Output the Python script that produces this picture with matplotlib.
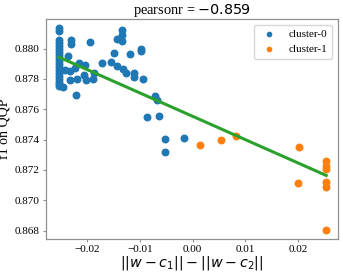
import numpy as np
import matplotlib
matplotlib.use("Agg")
import matplotlib.pyplot as plt

plt.rcParams['font.family'] = ['Liberation Serif', 'DejaVu Sans']
plt.rcParams['mathtext.fontset'] = 'dejavusans'

# cluster-0 points
c0_x = [-0.02533, -0.02525, -0.02530, -0.02528, -0.02532, -0.02526, -0.02530, -0.02527,
        -0.02531, -0.02529, -0.02533, -0.02527, -0.02530, -0.02528, -0.02532, -0.02526,
        -0.02530, -0.02528, -0.02531,
        -0.02445, -0.02408, -0.02350, -0.02318, -0.02312, -0.02299, -0.02305, -0.02217,
        -0.02204, -0.02179, -0.02152, -0.02051, -0.02040, -0.02013, -0.01937, -0.01886,
        -0.01873, -0.01709, -0.01550, -0.01480, -0.01429, -0.01429, -0.01341, -0.01333,
        -0.01328, -0.01314, -0.01265, -0.01175, -0.01112, -0.01112, -0.00985, -0.00985,
        -0.00933, -0.00718, -0.00680, -0.00870, -0.00636, -0.00514, -0.00160, -0.00528]
c0_y = [0.88134, 0.88116, 0.88060, 0.88040, 0.88020, 0.88000, 0.87980, 0.87960,
        0.87940, 0.87920, 0.87900, 0.87880, 0.87860, 0.87840, 0.87820, 0.87800,
        0.87780, 0.87765, 0.87755,
        0.87749, 0.87856, 0.87951, 0.87852, 0.87792, 0.88033, 0.88060, 0.87874,
        0.87693, 0.87802, 0.87907, 0.87823, 0.87890, 0.87790, 0.88044, 0.87802,
        0.87837, 0.87907, 0.87911, 0.87974, 0.87885, 0.88062, 0.88048, 0.88121,
        0.88088, 0.87863, 0.87837, 0.87967, 0.87837, 0.87815, 0.88000, 0.87984,
        0.87802, 0.87686, 0.87660, 0.87550, 0.87554, 0.87405, 0.87411, 0.87316]

# cluster-1 points
c1_x = [0.00139, 0.00533, 0.00830, 0.02020, 0.01992, 0.02526, 0.02526, 0.02526,
        0.02526, 0.02526, 0.02526]
c1_y = [0.87362, 0.87398, 0.87424, 0.87352, 0.87113, 0.87256, 0.87223, 0.87208,
        0.87124, 0.87091, 0.86805]

# regression line (slope, intercept) and its x extent
fit_slope = -0.1542
fit_intercept = 0.87554
fit_x = [-0.0253, 0.0253]

title_text = r'pearsonr = $-0.859$'
xlabel_text = r'$||w - c_1|| - ||w - c_2||$'
ylabel_text = 'f1 on QQP'
yticks = [0.868, 0.870, 0.872, 0.874, 0.876, 0.878, 0.880]
xticks = [-0.02, -0.01, 0.00, 0.01, 0.02]

fig = plt.figure(figsize=(3.43, 2.74), dpi=100)
ax = fig.add_axes([0.134, 0.1277, 0.851, 0.8023])

ax.scatter(c0_x, c0_y, s=22, color='#1f77b4', label='cluster-0', zorder=2)
ax.scatter(c1_x, c1_y, s=22, color='#ff7f0e', label='cluster-1', zorder=2)
fx = np.array(fit_x)
ax.plot(fx, fit_slope * fx + fit_intercept, color='#2ca02c', lw=2.2, zorder=3)

ax.set_xlim(-0.02775, 0.0275)
ax.set_ylim(0.86745, 0.88194)
ax.set_xticks(xticks)
ax.set_xticklabels([f'{t:.2f}'.replace('-', '\u2212') for t in xticks])
ax.set_yticks(yticks)
ax.set_yticklabels([f'{t:.3f}' for t in yticks])
ax.tick_params(labelsize=8, length=2.5, width=0.8, color='#909090', pad=2)
for sp in ax.spines.values():
    sp.set_color('#909090')
    sp.set_linewidth(0.9)

ax.set_title(title_text, fontsize=10.4, pad=3)
ax.set_xlabel(xlabel_text, fontsize=10.3, labelpad=0)
ax.set_ylabel(ylabel_text, fontsize=10, labelpad=2)
ax.legend(loc='upper right', fontsize=8, markerscale=0.65)

fig.savefig('out.png', dpi=100)
